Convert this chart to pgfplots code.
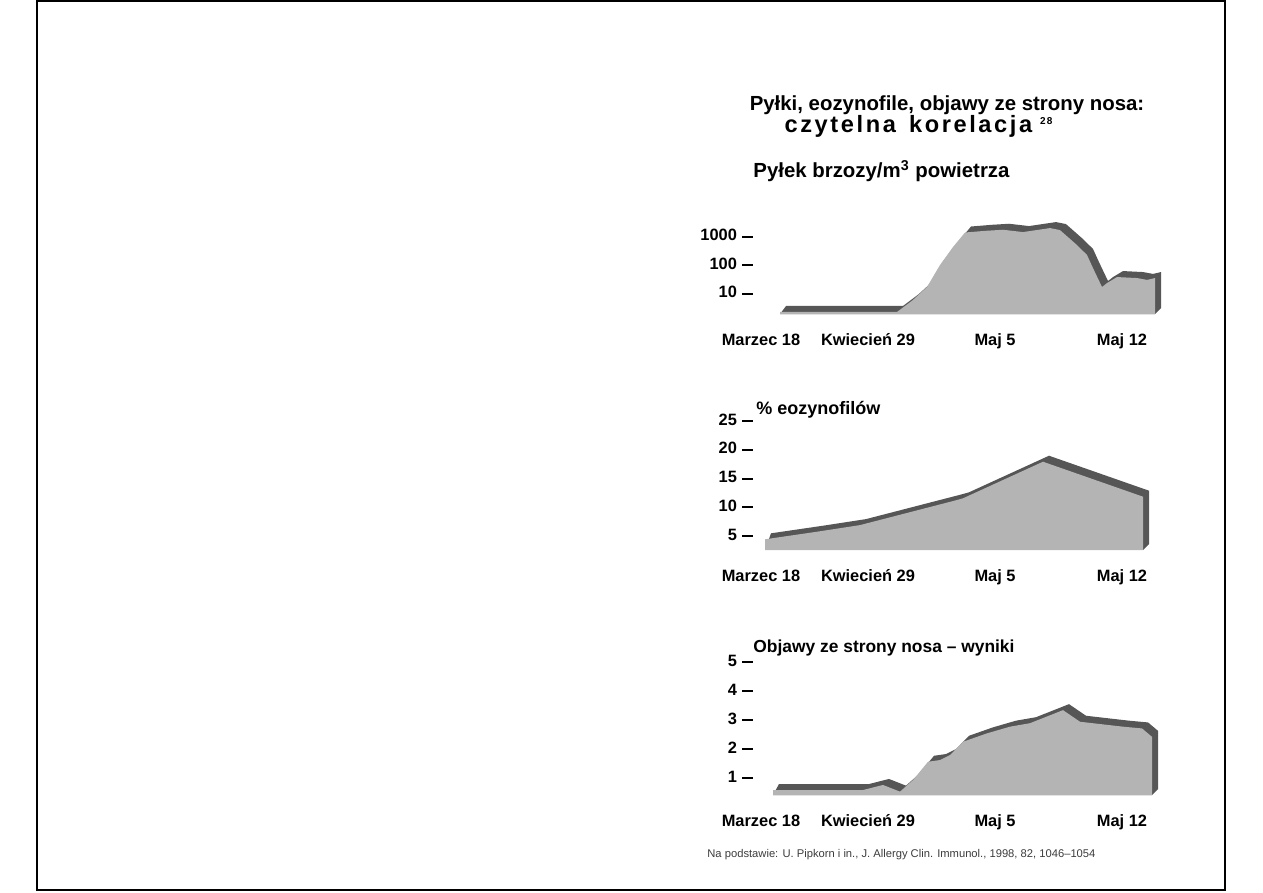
\documentclass[border=0pt]{standalone}
\usepackage{pgfplots}
\pgfplotsset{compat=1.18}
\usepackage{fontspec}
\setmainfont{Liberation Sans}
\definecolor{lightg}{RGB}{180,180,180}
\definecolor{darkg}{RGB}{86,86,86}
\definecolor{footg}{RGB}{60,60,60}
\pgfplotsset{
  panel/.style={
    scale only axis, clip=false,
    width=208.5pt,
    xmin=753, xmax=1170,
    axis line style={draw=none},
    tick align=outside,
    major tick length=5.5pt,
    ytick style={line width=1pt, black},
    xtick style={draw=none},
    yminorticks=false,
    xtick={761,868,995,1122},
    xticklabels={Marzec 18, Kwiecień 29, Maj 5, Maj 12},
    tick label style={font=\fontsize{8.2}{10}\selectfont\bfseries},
    xticklabel style={font=\fontsize{8.2}{10}\selectfont\bfseries, yshift=0.5pt},
    typeset ticklabels with strut,
    yticklabel style={xshift=1pt},
    /pgf/number format/assume math mode=true,
    axis x line*=bottom, axis y line*=left,
  },
  dark/.style={fill=darkg, draw=none, xshift=3pt, yshift=3pt},
  light/.style={fill=lightg, draw=none},
}
\begin{document}
\begin{tikzpicture}
\begin{scope}[x=0.5pt,y=-0.5pt]
  \useasboundingbox (0,0) rectangle (1263,893);
  \draw[line width=1pt] (37,1) rectangle (1225,890);
  \node[anchor=base, font=\fontsize{10.2}{12}\selectfont\bfseries] at (947,111) {Pyłki, eozynofile, objawy ze strony nosa:};
  \node[anchor=base, font=\fontsize{11.8}{12}\selectfont\bfseries\addfontfeature{LetterSpace=11}] at (919,133) {czytelna\hspace{2pt} korelacja\hspace{4pt}\textsuperscript{\tiny 28}};
  \node[anchor=base west, font=\fontsize{10.2}{12}\selectfont\bfseries, inner sep=0pt] at (753,178) {Pyłek brzozy/m\textsuperscript{3} powietrza};
  \node[anchor=base west, font=\fontsize{9}{11}\selectfont\bfseries, inner sep=0pt] at (756,414) {\% eozynofilów};
  \node[anchor=base west, font=\fontsize{8.7}{11}\selectfont\bfseries, inner sep=0pt] at (753,652) {Objawy ze strony nosa -- wyniki};
  \node[anchor=base west, font=\fontsize{5.6}{7}\selectfont, text=footg, inner sep=0pt] at (707,857) {Na podstawie: U. Pipkorn i in., J. Allergy Clin. Immunol., 1998, 82, 1046--1054};
\end{scope}

% Panel 1: birch pollen per m^3 (log scale)
\begin{axis}[panel, at={(376.5pt,-157pt)}, anchor=south west, height=47pt,
  ymode=log, ymin=2, ymax=3830, ytick={10,100,1000}, yticklabels={10,100,1000}]
  \addplot[dark] coordinates {(774,1.23) (780,2.35) (897,2.35) (913,6.2) (927,17.5) (940,103) (953,437) (965,1400) (985,1600) (1003,1750) (1023,1450) (1050,2000) (1060,1700) (1077,510) (1087,230) (1093,80) (1102,17.5) (1107,24) (1117,39) (1137,36) (1147,31) (1155,36) (1155,2) (1149,1.23)} -- cycle;
  \addplot[light] coordinates {(780,2) (780,2.35) (897,2.35) (913,6.2) (927,17.5) (940,103) (953,437) (965,1400) (985,1600) (1003,1750) (1023,1450) (1050,2000) (1060,1700) (1077,510) (1087,230) (1093,80) (1102,17.5) (1107,24) (1117,39) (1137,36) (1147,31) (1155,36) (1155,2)} -- cycle;
\end{axis}

% Panel 2: % eosinophils
\begin{axis}[panel, at={(376.5pt,-275pt)}, anchor=south west, height=70.25pt,
  ymin=2.57, ymax=27, ytick={5,10,15,20,25}]
  \addplot[dark] coordinates {(759,1.53) (765,4.43) (817,5.75) (860,6.9) (957,11.26) (963,11.56) (1043,17.92) (1143,11.84) (1143,2.57) (1137,1.53)} -- cycle;
  \addplot[light] coordinates {(765,2.57) (765,4.43) (817,5.75) (860,6.9) (957,11.26) (963,11.56) (1043,17.92) (1143,11.84) (1143,2.57)} -- cycle;
\end{axis}

% Panel 3: nasal symptom scores
\begin{axis}[panel, at={(376.5pt,-397.5pt)}, anchor=south west, height=70.85pt,
  ymin=0.414, ymax=5.3, ytick={1,2,3,4,5}]
  \addplot[dark] coordinates {(767,0.207) (773,0.586) (863,0.586) (883,0.76) (900,0.53) (913,0.93) (928,1.56) (940,1.62) (950,1.79) (963,2.25) (987,2.54) (1010,2.77) (1030,2.89) (1063,3.34) (1080,2.94) (1123,2.77) (1142,2.71) (1152,2.42) (1152,0.414) (1146,0.207)} -- cycle;
  \addplot[light] coordinates {(773,0.414) (773,0.586) (863,0.586) (883,0.76) (900,0.53) (913,0.93) (928,1.56) (940,1.62) (950,1.79) (963,2.25) (987,2.54) (1010,2.77) (1030,2.89) (1063,3.34) (1080,2.94) (1123,2.77) (1142,2.71) (1152,2.42) (1152,0.414)} -- cycle;
\end{axis}
\end{tikzpicture}
\end{document}
